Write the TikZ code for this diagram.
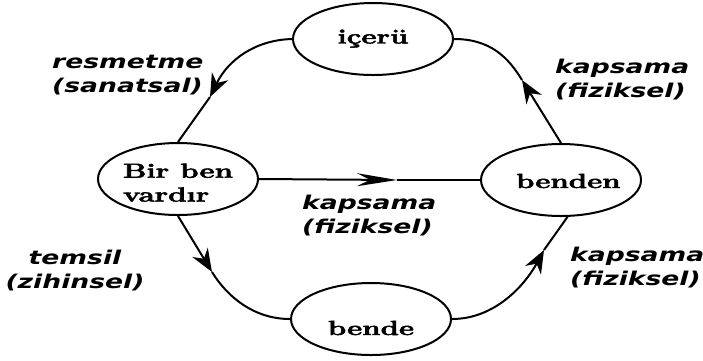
\documentclass[tikz,border=0pt]{standalone}
\usepackage{fontspec}
\newfontfamily\labfont{DejaVu Sans}
\newfontfamily\nodefont{lmroman12-bold.otf}[FakeBold=2]
\usetikzlibrary{shapes.geometric,arrows.meta}
\newcommand\nodetxt[1]{{\nodefont\fontsize{12}{14}\selectfont\scalebox{2.45}[1.7]{#1}}}
\newcommand\labtxt[2][l]{{\labfont\bfseries\itshape\fontsize{19}{24}\selectfont\scalebox{1.4}[1]{\begin{tabular}{@{}#1@{}}#2\end{tabular}}}}
\begin{document}
\begin{tikzpicture}[x=1pt,y=-1pt,
  st/.style={ellipse,draw,line width=2pt,inner sep=0pt,minimum width=160pt,minimum height=72pt,text depth=0pt},
  con/.style={line width=2pt},
  tipd/.style={-{Stealth[length=23pt,width=18pt]}},
  lab/.style={inner sep=0pt}]
\path[fill=white,use as bounding box] (0,0) rectangle (703,360);
% nodes
\node[st,text height=9pt] (top) at (373,39) {\nodetxt{içerü}};
\node[st,text height=22pt] (left) at (178,179) {\nodetxt{\makebox[0pt]{\begin{tabular}{@{}l@{}}Bir ben\\vardır\end{tabular}}}};
\node[st,text height=16pt] (right) at (561,180) {\nodetxt{\makebox[0pt]{\hspace{6pt}benden}}};
\node[st,text height=32pt] (bot) at (371,319) {\nodetxt{bende}};
% arrow points
\coordinate (a1) at (210,97);
\coordinate (a2) at (522,80);
\coordinate (a3) at (212,272);
\coordinate (a4) at (544,250);
\coordinate (a5) at (397,180);
% connectors
\draw[con,tipd] (top.west) .. controls (255,40) and (228,60) .. (a1);
\draw[con] (a1) -- (left.north);
\draw[con,tipd] (right.north) -- (a2);
\draw[con] (a2) .. controls (508,57) and (490,39) .. (top.east);
\draw[con,tipd] (left.south) -- (a3);
\draw[con] (a3) .. controls (228,298) and (255,319) .. (bot.west);
\draw[con,tipd] (bot.east) .. controls (495,319) and (525,285) .. (a4);
\draw[con] (a4) -- (right.-80);
\draw[con,-{Stealth[length=40pt,width=13pt]}] (left.east) -- (a5);
\draw[con] (a5) -- (right.west);
% labels
\node[lab,anchor=west] (l1) at (52,76) {\labtxt{resmetme\\(sanatsal)}};
\node[lab,anchor=west] (l2) at (555,81) {\labtxt{kapsama\\(fiziksel)}};
\node[lab] (l3) at (75,272) {\labtxt[c]{temsil\\(zihinsel)}};
\node[lab,anchor=west] (l4) at (302,217) {\labtxt{kapsama\\(fiziksel)}};
\node[lab,anchor=west] (l5) at (570,269) {\labtxt{kapsama\\(fiziksel)}};
\end{tikzpicture}
\end{document}
